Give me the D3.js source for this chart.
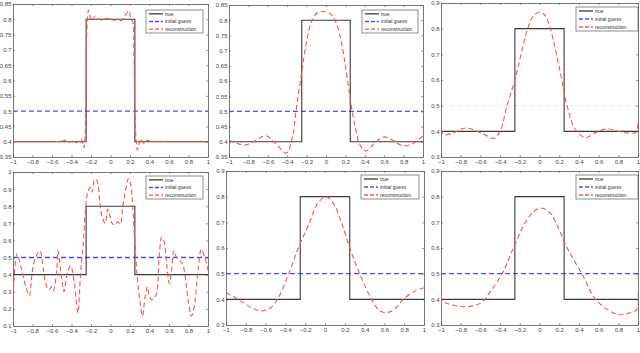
<!DOCTYPE html>
<html>
<head>
<meta charset="utf-8">
<script src="https://cdn.jsdelivr.net/npm/d3@7"></script>
<style>
  body { margin: 0; background: #fff; }
  svg { display: block; font-family: "Liberation Sans", Arial, sans-serif; }
</style>
</head>
<body>
<div class="chart"></div>
<script>
// tick labels
var xTicks = [-1, -0.8, -0.6, -0.4, -0.2, 0, 0.2, 0.4, 0.6, 0.8, 1];
var yTicksA = [0.35, 0.4, 0.45, 0.5, 0.55, 0.6, 0.65, 0.7, 0.75, 0.8, 0.85];
var yTicksB = [0.3, 0.4, 0.5, 0.6, 0.7, 0.8, 0.9];
var yTicksC = [0.1, 0.2, 0.3, 0.4, 0.5, 0.6, 0.7, 0.8, 0.9, 1];

var legendNames = ["true", "initial guess", "reconstruction"];

// true profile and initial guess
var trueX = [-1, -0.25, -0.25, 0.25, 0.25, 1];
var trueY = [0.4, 0.4, 0.8, 0.8, 0.4, 0.4];
var guessX = [-1, 1];
var guessY = [0.5, 0.5];

// reconstructions
var rec1X = [-1, -0.8, -0.6, -0.5, -0.45, -0.42, -0.38, -0.35, -0.32, -0.3, -0.285, -0.27, -0.26, -0.25, -0.24, -0.225, -0.21, -0.19, -0.16, -0.12, -0.08, -0.04, 0, 0.04, 0.08, 0.11, 0.14, 0.17, 0.19, 0.21, 0.23, 0.24, 0.25, 0.26, 0.275, 0.29, 0.31, 0.34, 0.37, 0.42, 0.5, 0.6, 0.8, 1];
var rec1Y = [0.4, 0.4, 0.4, 0.402, 0.406, 0.398, 0.404, 0.397, 0.403, 0.41, 0.393, 0.38, 0.43, 0.6, 0.78, 0.83, 0.81, 0.795, 0.81, 0.8, 0.797, 0.803, 0.8, 0.797, 0.802, 0.795, 0.808, 0.822, 0.828, 0.8, 0.79, 0.7, 0.5, 0.42, 0.373, 0.39, 0.41, 0.395, 0.405, 0.4, 0.402, 0.4, 0.4, 0.4];

var rec2X = [-1, -0.9, -0.82, -0.72, -0.62, -0.52, -0.41, -0.35, -0.31, -0.25, -0.2, -0.15, -0.1, -0.05, 0, 0.05, 0.1, 0.15, 0.2, 0.25, 0.3, 0.35, 0.41, 0.5, 0.59, 0.69, 0.79, 0.9, 1];
var rec2Y = [0.405, 0.393, 0.39, 0.405, 0.42, 0.395, 0.363, 0.41, 0.5, 0.63, 0.73, 0.795, 0.822, 0.828, 0.827, 0.82, 0.795, 0.74, 0.65, 0.54, 0.45, 0.39, 0.37, 0.395, 0.416, 0.405, 0.387, 0.395, 0.42];

var rec3X = [-1, -0.98, -0.9, -0.75, -0.6, -0.46, -0.4, -0.33, -0.25, -0.12, -0.06, 0.01, 0.06, 0.11, 0.2, 0.28, 0.36, 0.465, 0.57, 0.68, 0.8, 0.9, 0.98, 1];
var rec3Y = [0.44, 0.39, 0.39, 0.413, 0.395, 0.373, 0.4, 0.5, 0.6, 0.8, 0.85, 0.865, 0.85, 0.8, 0.65, 0.5, 0.41, 0.376, 0.395, 0.41, 0.4, 0.393, 0.397, 0.44];

var rec4X = [-1, -0.959, -0.918, -0.868, -0.834, -0.8, -0.766, -0.722, -0.698, -0.664, -0.63, -0.606, -0.586, -0.552, -0.538, -0.511, -0.477, -0.443, -0.409, -0.375, -0.334, -0.307, -0.28, -0.256, -0.233, -0.205, -0.188, -0.161, -0.138, -0.11, -0.087, -0.053, -0.029, -0.008, 0.015, 0.049, 0.073, 0.1, 0.127, 0.151, 0.185, 0.209, 0.229, 0.253, 0.277, 0.304, 0.328, 0.355, 0.379, 0.399, 0.423, 0.447, 0.474, 0.501, 0.525, 0.548, 0.576, 0.603, 0.626, 0.65, 0.677, 0.711, 0.739, 0.762, 0.796, 0.83, 0.864, 0.898, 0.932, 0.966, 1];
var rec4Y = [0.263, 0.52, 0.444, 0.33, 0.276, 0.425, 0.505, 0.539, 0.472, 0.349, 0.31, 0.33, 0.307, 0.425, 0.539, 0.425, 0.301, 0.406, 0.453, 0.368, 0.177, 0.406, 0.577, 0.787, 0.882, 0.91, 0.882, 0.958, 0.949, 0.825, 0.739, 0.701, 0.783, 0.749, 0.701, 0.691, 0.71, 0.695, 0.806, 0.882, 0.962, 0.92, 0.787, 0.558, 0.368, 0.234, 0.158, 0.272, 0.33, 0.272, 0.253, 0.263, 0.291, 0.52, 0.619, 0.596, 0.463, 0.349, 0.425, 0.539, 0.501, 0.482, 0.463, 0.406, 0.253, 0.158, 0.234, 0.425, 0.549, 0.501, 0.425];

var rec5X = [-1, -0.9, -0.8, -0.7, -0.63, -0.55, -0.48, -0.365, -0.27, -0.155, -0.08, 0.01, 0.09, 0.166, 0.25, 0.35, 0.47, 0.54, 0.61, 0.7, 0.79, 0.9, 1];
var rec5Y = [0.426, 0.405, 0.38, 0.36, 0.355, 0.367, 0.4, 0.5, 0.6, 0.7, 0.77, 0.8, 0.77, 0.7, 0.6, 0.5, 0.4, 0.36, 0.348, 0.36, 0.4, 0.43, 0.445];

var rec6X = [-1, -0.985, -0.9, -0.744, -0.59, -0.5, -0.379, -0.265, -0.143, -0.05, 0.032, 0.12, 0.2, 0.3, 0.43, 0.57, 0.74, 0.825, 0.926, 0.99, 1];
var rec6Y = [0.445, 0.394, 0.38, 0.371, 0.387, 0.43, 0.5, 0.6, 0.7, 0.745, 0.755, 0.73, 0.67, 0.586, 0.5, 0.4, 0.349, 0.34, 0.349, 0.362, 0.44];

// layout of the 2x3 grid (pixel boxes)
var panels = [
  { left: 13, right: 208, top: 4, bottom: 157, yTicks: yTicksA, recX: rec1X, recY: rec1Y, legend: [146, 10, 57, 23], guessOpacity: 1 },
  { left: 229, right: 423, top: 5, bottom: 157, yTicks: yTicksA, recX: rec2X, recY: rec2Y, legend: [362, 10, 56, 23], guessOpacity: 1 },
  { left: 441, right: 638, top: 3, bottom: 157, yTicks: yTicksB, recX: rec3X, recY: rec3Y, legend: [576, 7, 62, 24], guessOpacity: 0.12 },
  { left: 13, right: 208, top: 172, bottom: 326, yTicks: yTicksC, recX: rec4X, recY: rec4Y, legend: [146, 176, 57, 23], guessOpacity: 1 },
  { left: 226, right: 424, top: 171, bottom: 325, yTicks: yTicksB, recX: rec5X, recY: rec5Y, legend: [361, 175, 58, 24], guessOpacity: 1 },
  { left: 441, right: 638, top: 171, bottom: 325, yTicks: yTicksB, recX: rec6X, recY: rec6Y, legend: [576, 175, 62, 24], guessOpacity: 1 }
];

var svg = d3.select(".chart").append("svg")
  .attr("width", 640)
  .attr("height", 353);

var blue = "#4b4bff";
var red = "#ff5050";
var dark = "#3a3a3a";

panels.forEach(function(p, i) {
  var width = p.right - p.left;
  var height = p.bottom - p.top;
  var yDom = d3.extent(p.yTicks);

  var xScale = d3.scaleLinear().domain([-1, 1]).range([0, width]);
  var yScale = d3.scaleLinear().domain(yDom).range([height, 0]);

  var g = svg.append("g")
    .attr("transform", `translate(${p.left}, ${p.top})`);

  g.append("clipPath").attr("id", "clip" + i)
    .append("rect").attr("width", width).attr("height", height);

  // axes, ticks inward on all four sides
  var fmt = d3.format("~g");
  var axes = [
    { ax: d3.axisBottom(xScale).tickValues(xTicks).tickFormat(fmt), t: `translate(0, ${height})`, labels: true, pad: 3 },
    { ax: d3.axisTop(xScale).tickValues(xTicks), t: "translate(0,0)", labels: false, pad: 3 },
    { ax: d3.axisLeft(yScale).tickValues(p.yTicks).tickFormat(fmt), t: "translate(0,0)", labels: true, pad: 1.5 },
    { ax: d3.axisRight(yScale).tickValues(p.yTicks), t: `translate(${width}, 0)`, labels: false, pad: 3 }
  ];
  axes.forEach(function(a) {
    var sel = g.append("g")
      .attr("transform", a.t)
      .call(a.ax.tickSizeInner(-2).tickSizeOuter(0).tickPadding(a.pad));
    sel.select(".domain").attr("stroke", "#555").attr("stroke-width", 0.8);
    sel.selectAll(".tick line").attr("stroke", "#555").attr("stroke-width", 0.6);
    sel.selectAll("text")
      .attr("font-size", "6px")
      .attr("fill", "#444")
      .attr("font-family", "Liberation Sans, Arial, sans-serif");
    if (!a.labels) sel.selectAll("text").remove();
  });

  var line = d3.line()
    .x(function(d) { return xScale(d[0]); })
    .y(function(d) { return yScale(d[1]); });

  var plot = g.append("g").attr("clip-path", `url(#clip${i})`);

  plot.append("path")
    .datum(d3.zip(guessX, guessY))
    .attr("d", line)
    .attr("fill", "none")
    .attr("stroke", blue)
    .attr("stroke-width", 1.4)
    .attr("stroke-dasharray", "5,3")
    .attr("opacity", p.guessOpacity);

  plot.append("path")
    .datum(d3.zip(trueX, trueY))
    .attr("d", line)
    .attr("fill", "none")
    .attr("stroke", dark)
    .attr("stroke-width", 1.1);

  plot.append("path")
    .datum(d3.zip(p.recX, p.recY))
    .attr("d", line.curve(d3.curveCatmullRom.alpha(0.5)))
    .attr("fill", "none")
    .attr("stroke", red)
    .attr("stroke-width", 1.1)
    .attr("stroke-dasharray", "5,3");

  // legend
  var L = p.legend;
  var lg = svg.append("g").attr("transform", `translate(${L[0]}, ${L[1]})`);
  lg.append("rect")
    .attr("width", L[2]).attr("height", L[3])
    .attr("fill", "#fff").attr("stroke", "#444").attr("stroke-width", 0.6);
  var styles = [
    { c: dark, dash: null },
    { c: blue, dash: "4,2" },
    { c: red, dash: "4,2" }
  ];
  var step = L[3] / 3;
  legendNames.forEach(function(name, k) {
    var yy = step * (k + 0.5);
    lg.append("line")
      .attr("x1", 3).attr("x2", 17)
      .attr("y1", yy).attr("y2", yy)
      .attr("stroke", styles[k].c)
      .attr("stroke-width", 1.3)
      .attr("stroke-dasharray", styles[k].dash);
    lg.append("text")
      .attr("x", 19).attr("y", yy)
      .attr("dy", "0.35em")
      .attr("font-size", "5px")
      .attr("fill", "#333")
      .text(name);
  });
});
</script>
</body>
</html>
